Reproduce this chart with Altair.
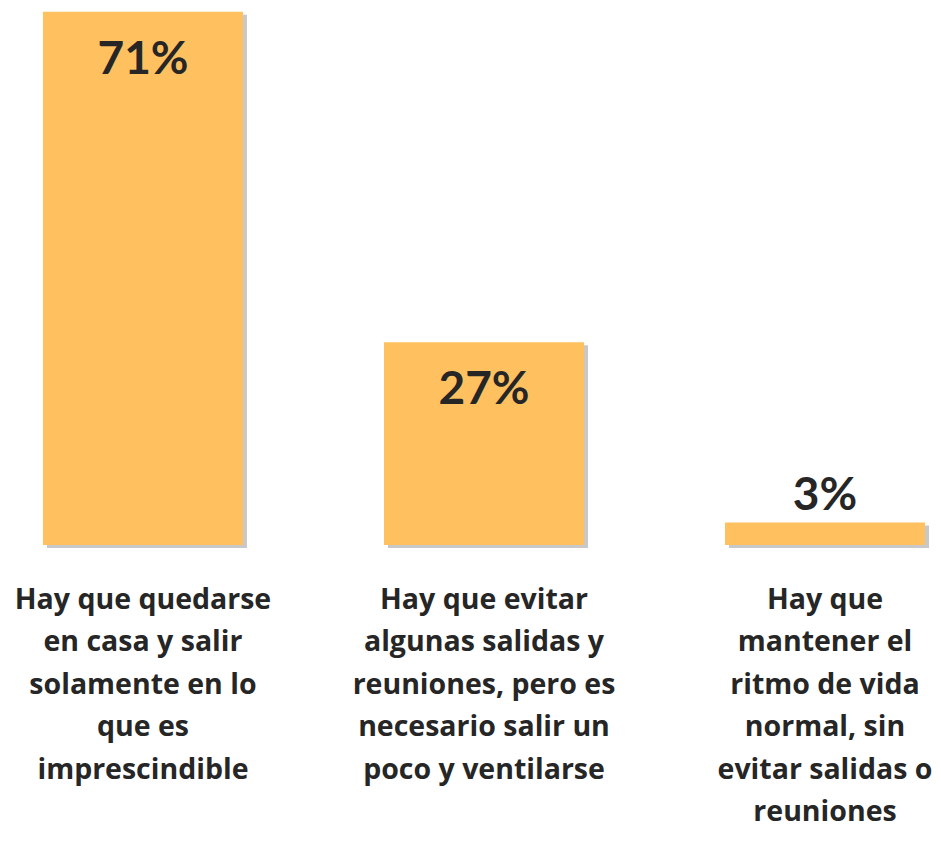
import altair as alt
import pandas as pd

categories = [
    "Hay que quedarse|en casa y salir|solamente en lo|que es|imprescindible",
    "Hay que evitar|algunas salidas y|reuniones, pero es|necesario salir un|poco y ventilarse",
    "Hay que|mantener el|ritmo de vida|normal, sin|evitar salidas o|reuniones",
]
values = [71, 27, 3]
labels = ["71%", "27%", "3%"]

df = pd.DataFrame({"cat": categories, "value": values, "label": labels})

x = alt.X(
    "cat:N",
    sort=categories,
    title=None,
    scale=alt.Scale(paddingInner=0.4135, paddingOuter=0.063, align=0.814),
    axis=alt.Axis(
        labelAngle=0,
        labelExpr="split(datum.value, '|')",
        labelFont="Open Sans",
        labelFontWeight="bold",
        labelFontSize=28.5,
        labelColor="#262626",
        labelLineHeight=42.5,
        labelPadding=40,
        labelLimit=400,
        domain=False,
        ticks=False,
        labelBaseline="top",
    ),
)
y = alt.Y("value:Q", title=None, axis=None, scale=alt.Scale(domain=[0, 71.5], nice=False))

base = alt.Chart(df)

shadow = base.mark_bar(color="#9a9a9a", opacity=0.55, xOffset=4, yOffset=3).encode(x=x, y=y)
bars = base.mark_bar(color="#FFC05F").encode(x=x, y=y)

text_in = base.transform_filter("datum.value > 10").mark_text(
    font="Lato", fontWeight="bold", fontSize=46, color="#262626", baseline="top", dy=26
).encode(x=x, y=y, text="label:N")
text_out = base.transform_filter("datum.value <= 10").mark_text(
    font="Lato", fontWeight="bold", fontSize=46, color="#262626", baseline="bottom", dy=-2
).encode(x=x, y=y, text="label:N")

chart = (
    alt.layer(shadow, bars, text_in, text_out)
    .properties(
        width=925,
        height=537,
        autosize="none",
        padding={"left": 0, "top": 0, "right": 0, "bottom": 288},
    )
    .configure_view(stroke=None)
)

chart.save("out.html", embed_options={"renderer": "svg", "actions": False})
